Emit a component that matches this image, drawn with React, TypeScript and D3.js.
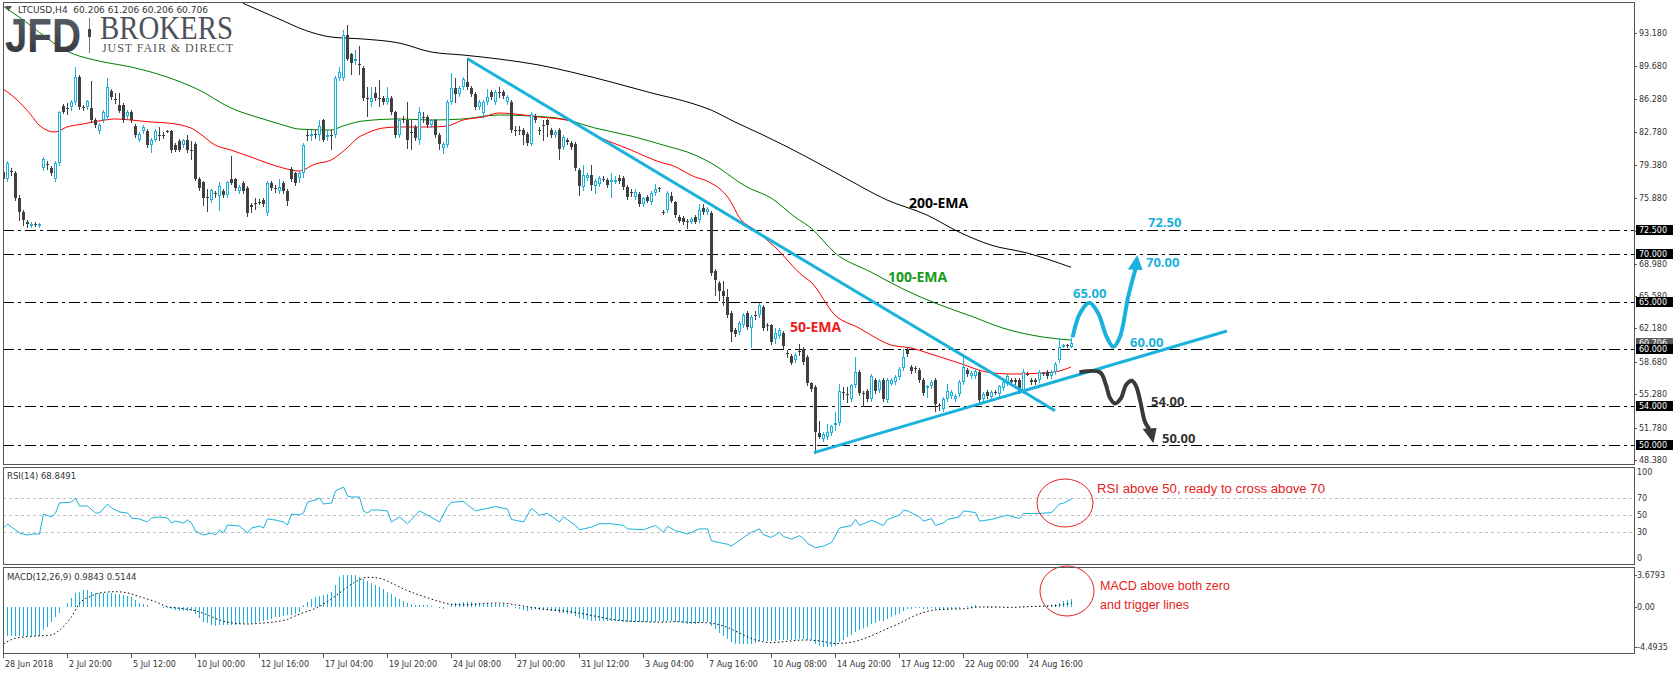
import React from "react";
import * as d3 from "d3";

// LTCUSD H4 candles: [open, high, low, close]
const ohlc: [number, number, number, number][] = [
  [78.6, 79.0, 77.6, 77.9], [77.9, 79.8, 77.7, 79.5], [78.7, 79.0, 78.3, 78.6], [78.5, 78.7, 75.7, 75.9],
  [75.9, 76.2, 73.6, 74.4], [74.4, 74.6, 73.0, 73.6], [73.3, 73.6, 72.8, 73.1], [73.0, 73.3, 72.8, 73.1],
  [73.1, 73.3, 72.9, 73.0], [73.0, 73.2, 72.8, 73.1], [79.0, 80.2, 78.8, 80.0], [79.4, 79.7, 78.9, 79.3],
  [79.0, 79.2, 78.3, 78.5], [77.9, 79.8, 77.7, 79.5], [79.5, 85.0, 79.3, 84.9], [85.5, 85.7, 84.8, 84.9],
  [85.3, 85.8, 84.7, 85.3], [85.4, 86.1, 85.1, 85.9], [85.9, 89.6, 85.7, 88.6], [88.6, 88.8, 85.2, 85.4],
  [85.4, 85.6, 85.1, 85.3], [85.4, 86.2, 85.2, 86.0], [85.3, 88.1, 83.8, 84.0], [84.0, 84.3, 83.3, 83.5],
  [82.9, 83.7, 82.7, 83.5], [84.0, 85.1, 83.8, 84.9], [84.4, 88.5, 84.2, 87.5], [87.1, 87.3, 86.3, 86.5],
  [86.3, 86.9, 85.8, 86.2], [85.6, 86.9, 84.9, 85.0], [85.6, 85.8, 83.8, 84.0], [84.5, 85.1, 84.3, 84.9],
  [84.9, 85.1, 83.8, 84.0], [83.4, 83.6, 82.3, 82.5], [82.0, 82.8, 81.8, 82.6], [82.9, 83.5, 82.7, 83.3],
  [82.9, 83.1, 81.2, 81.4], [81.4, 82.2, 80.7, 82.0], [82.0, 83.1, 81.8, 82.9], [82.5, 83.3, 82.0, 82.5],
  [82.5, 82.8, 82.2, 82.4], [82.9, 83.0, 82.8, 82.9], [82.9, 83.0, 80.7, 80.9], [81.4, 81.6, 80.8, 80.9],
  [81.9, 82.1, 80.8, 80.9], [81.4, 82.1, 81.2, 82.0], [82.0, 82.5, 80.7, 80.9], [80.9, 81.9, 80.0, 80.8],
  [81.5, 81.7, 77.8, 77.9], [77.9, 78.1, 76.7, 76.9], [77.5, 77.6, 75.1, 75.9], [76.0, 76.8, 74.5, 75.9],
  [75.7, 76.8, 75.5, 76.7], [76.4, 76.6, 76.0, 76.3], [76.1, 77.5, 74.6, 77.1], [76.6, 76.8, 76.0, 76.2],
  [76.2, 77.7, 76.0, 77.5], [77.9, 80.3, 77.3, 77.4], [77.9, 78.0, 76.7, 76.9], [76.6, 77.2, 76.4, 77.0],
  [77.4, 77.6, 76.4, 76.6], [76.9, 77.1, 74.0, 74.3], [75.1, 75.3, 74.4, 74.9], [75.3, 75.9, 74.7, 75.3],
  [75.5, 75.8, 75.2, 75.4], [75.7, 75.9, 75.0, 75.2], [74.3, 77.7, 74.1, 77.4], [77.4, 77.6, 76.7, 76.9],
  [76.9, 77.2, 76.5, 76.8], [76.6, 77.9, 76.4, 77.0], [77.4, 77.6, 76.4, 76.6], [76.6, 76.8, 75.1, 75.6],
  [78.9, 79.1, 77.7, 77.9], [78.5, 78.6, 77.2, 77.4], [78.0, 78.7, 77.5, 78.5], [78.5, 81.6, 78.1, 81.4],
  [82.5, 83.0, 82.0, 82.5], [82.5, 83.0, 82.0, 82.6], [82.6, 83.0, 82.2, 82.5], [82.5, 84.0, 82.0, 83.4],
  [84.0, 84.2, 81.8, 82.0], [82.4, 83.0, 82.0, 82.5], [82.5, 83.0, 81.0, 82.5], [82.5, 88.7, 82.3, 88.5],
  [88.5, 89.6, 88.3, 89.1], [88.5, 93.5, 88.3, 93.0], [93.0, 94.0, 90.3, 90.5], [91.0, 91.1, 88.9, 90.0],
  [90.4, 91.4, 89.9, 90.5], [89.9, 91.8, 88.9, 89.9], [89.5, 89.7, 86.2, 86.4], [86.4, 87.5, 84.5, 86.4],
  [85.9, 87.5, 85.5, 86.4], [86.9, 87.5, 86.2, 86.4], [86.4, 88.3, 85.5, 86.4], [86.4, 86.6, 85.7, 85.9],
  [85.9, 87.5, 85.7, 86.4], [86.4, 86.6, 84.7, 84.9], [84.9, 85.0, 82.3, 82.5], [82.5, 84.2, 82.3, 84.0],
  [84.2, 84.5, 83.8, 84.2], [84.0, 85.9, 81.1, 82.0], [82.8, 84.0, 81.0, 82.8], [83.3, 83.5, 82.0, 82.2],
  [82.0, 85.4, 81.5, 84.9], [84.4, 84.9, 83.8, 84.4], [84.4, 84.6, 83.3, 83.5], [83.5, 84.2, 83.3, 84.0],
  [84.0, 84.2, 82.3, 82.5], [82.5, 82.7, 81.0, 81.5], [81.1, 81.7, 80.6, 81.5], [81.4, 86.1, 81.2, 85.9],
  [85.9, 89.0, 85.7, 87.4], [87.4, 88.5, 85.9, 86.8], [86.8, 87.6, 86.6, 87.4], [87.5, 88.6, 87.3, 88.4],
  [88.0, 90.5, 87.3, 87.5], [87.4, 87.6, 86.6, 86.8], [86.8, 87.0, 85.2, 85.4], [85.4, 86.1, 85.2, 85.9],
  [84.8, 86.2, 84.4, 85.9], [85.9, 87.3, 85.7, 86.5], [87.0, 87.2, 86.3, 86.5], [85.9, 87.2, 85.7, 87.0],
  [87.0, 87.5, 86.5, 87.0], [87.0, 87.2, 86.4, 86.6], [85.9, 86.7, 85.7, 86.5], [85.9, 86.1, 82.8, 83.0],
  [83.0, 83.4, 82.5, 83.0], [83.0, 83.4, 82.6, 83.0], [83.0, 83.2, 81.5, 82.5], [82.6, 82.8, 81.4, 81.6],
  [81.5, 84.9, 81.4, 84.7], [84.5, 84.7, 83.8, 84.0], [83.0, 83.3, 82.6, 82.9], [83.5, 84.0, 82.0, 83.5],
  [84.0, 84.2, 82.4, 83.5], [83.0, 83.2, 82.3, 82.5], [82.5, 83.0, 82.3, 82.8], [83.0, 83.2, 80.0, 81.0],
  [81.2, 82.5, 81.0, 82.3], [82.0, 82.2, 81.5, 81.7], [81.6, 81.8, 81.0, 81.2], [81.5, 81.7, 78.8, 79.0],
  [78.8, 79.0, 76.2, 77.1], [77.0, 79.3, 76.7, 78.3], [78.0, 78.5, 77.8, 78.3], [78.3, 79.3, 76.7, 77.2],
  [77.1, 77.9, 76.4, 77.6], [77.3, 78.2, 77.1, 78.0], [77.9, 78.2, 77.6, 77.9], [77.8, 78.0, 77.0, 77.2],
  [77.6, 78.5, 76.0, 77.8], [77.6, 78.2, 77.4, 77.8], [78.0, 78.3, 77.4, 77.6], [78.0, 78.2, 76.8, 77.0],
  [77.0, 77.2, 75.8, 76.0], [76.5, 76.8, 76.1, 76.4], [76.0, 76.8, 75.8, 76.5], [76.3, 76.5, 75.0, 75.2],
  [75.2, 76.0, 75.0, 75.9], [76.0, 76.2, 75.4, 75.6], [75.4, 76.6, 75.2, 76.4], [76.4, 77.3, 76.2, 76.8],
  [76.9, 77.0, 76.6, 76.8], [74.4, 74.6, 74.2, 74.4], [74.6, 76.6, 74.4, 76.4], [76.1, 76.5, 75.4, 75.6],
  [75.4, 75.6, 73.9, 74.1], [73.9, 74.1, 73.3, 73.5], [73.8, 74.0, 73.1, 73.3], [73.5, 73.7, 72.7, 73.3],
  [73.4, 73.9, 73.2, 73.7], [73.9, 74.1, 73.2, 73.4], [73.6, 75.2, 73.4, 74.6], [74.8, 75.2, 74.2, 74.4],
  [74.4, 74.9, 74.2, 74.7], [74.3, 74.5, 67.8, 68.0], [68.2, 68.4, 65.7, 67.3], [67.0, 67.2, 65.2, 66.1],
  [66.1, 67.2, 64.6, 65.6], [65.5, 66.3, 63.4, 63.6], [63.8, 64.0, 60.9, 61.8], [62.0, 62.2, 61.4, 61.6],
  [61.8, 63.0, 61.6, 62.8], [62.5, 63.8, 62.3, 63.6], [63.8, 64.0, 62.1, 62.3], [62.2, 63.6, 60.2, 63.4],
  [63.6, 64.0, 63.2, 63.6], [63.6, 64.8, 63.4, 64.6], [64.4, 64.6, 62.0, 62.2], [62.5, 62.8, 62.0, 62.4],
  [62.5, 62.7, 60.6, 60.8], [61.1, 62.2, 60.7, 61.7], [61.4, 62.2, 61.2, 62.0], [61.7, 61.9, 60.1, 60.3],
  [59.6, 59.9, 59.2, 59.5], [59.3, 59.5, 58.5, 58.6], [58.9, 59.6, 58.7, 59.4], [59.8, 60.5, 59.4, 59.8],
  [60.0, 60.2, 58.5, 58.7], [59.2, 59.4, 56.3, 56.5], [56.5, 56.6, 55.6, 55.8], [56.0, 56.2, 49.15, 51.3],
  [51.2, 52.5, 50.7, 50.8], [50.6, 51.3, 50.4, 51.1], [50.8, 52.2, 50.6, 51.3], [51.2, 52.1, 51.0, 51.9],
  [52.0, 53.4, 51.5, 52.3], [52.3, 56.4, 52.1, 55.6], [55.5, 56.0, 54.8, 55.4], [55.3, 56.0, 54.5, 55.2],
  [54.8, 56.4, 54.6, 56.2], [56.2, 59.2, 56.0, 57.6], [57.6, 57.8, 55.2, 55.4], [55.4, 55.6, 54.0, 55.3],
  [55.6, 55.8, 54.6, 54.8], [54.8, 57.4, 54.6, 57.2], [56.8, 57.0, 55.4, 55.6], [55.7, 56.9, 55.5, 56.7],
  [56.8, 57.0, 54.6, 54.8], [54.7, 57.0, 54.5, 56.8], [56.4, 57.0, 56.2, 56.8], [56.6, 57.3, 56.4, 57.1],
  [57.1, 58.1, 56.9, 57.9], [58.0, 60.0, 57.8, 59.2], [60.0, 60.2, 59.3, 59.5], [58.1, 58.3, 57.5, 57.7],
  [58.0, 58.2, 57.6, 57.9], [57.8, 58.0, 56.6, 56.8], [56.8, 57.0, 55.2, 55.4], [55.9, 56.3, 55.0, 56.1],
  [56.1, 56.8, 55.9, 56.6], [56.8, 57.0, 53.5, 54.3], [54.1, 54.4, 53.6, 54.0], [53.7, 55.0, 53.5, 54.8],
  [54.8, 56.4, 54.6, 55.6], [55.1, 55.7, 54.9, 55.5], [54.8, 55.3, 54.6, 55.1], [55.3, 56.8, 55.1, 56.6],
  [56.6, 59.2, 56.4, 58.1], [57.8, 58.0, 57.2, 57.4], [57.2, 57.7, 57.0, 57.5], [57.2, 57.9, 57.0, 57.7],
  [57.6, 57.8, 54.5, 54.7], [54.8, 55.5, 54.6, 55.3], [55.5, 55.7, 54.9, 55.1], [55.0, 55.7, 54.8, 55.5],
  [55.5, 55.7, 55.3, 55.5], [55.3, 56.3, 55.1, 56.1], [55.9, 56.8, 55.7, 56.6], [56.4, 57.4, 56.2, 57.2],
  [56.8, 57.0, 56.4, 56.6], [56.8, 57.0, 56.4, 56.6], [56.8, 57.0, 55.4, 55.6], [55.6, 57.9, 55.4, 57.6],
  [57.4, 57.6, 57.3, 57.4], [56.8, 57.0, 56.4, 56.6], [56.8, 57.0, 56.4, 56.6], [56.8, 57.8, 56.6, 57.6],
  [57.5, 57.6, 57.3, 57.4], [57.6, 57.8, 57.0, 57.2], [57.2, 57.8, 57.0, 57.6], [57.6, 58.7, 57.4, 58.5],
  [58.9, 61.2, 58.7, 60.2], [60.3, 60.6, 60.2, 60.4], [60.4, 60.6, 60.2, 60.4], [60.206, 61.206, 60.206, 60.706],
];

const timeLabels = [
  "28 Jun 2018", "2 Jul 20:00", "5 Jul 12:00", "10 Jul 00:00", "12 Jul 16:00", "17 Jul 04:00",
  "19 Jul 20:00", "24 Jul 08:00", "27 Jul 00:00", "31 Jul 12:00", "3 Aug 04:00", "7 Aug 16:00",
  "10 Aug 08:00", "14 Aug 20:00", "17 Aug 12:00", "22 Aug 00:00", "24 Aug 16:00",
];

const priceTicks = [93.18, 89.68, 86.28, 82.78, 79.38, 75.88, 72.38, 68.98, 65.58, 62.18, 58.68, 55.28, 51.78, 48.38];
const levels = [72.5, 70, 65, 60, 54, 50];
const lastPrice = 60.706;

// moving averages sampled off the chart: [bar, value]
const ema200: [number, number][] = [
  [60, 96.3], [69, 94.65], [76, 93.4], [82, 92.76], [90, 92.55], [99, 92.13], [107, 91.19], [115, 90.87],
  [124, 90.45], [134, 89.82], [142, 89.09], [152, 88.04], [162, 86.9], [172, 85.83], [177, 85.1], [183, 83.84],
  [190, 82.48], [200, 80.38], [210, 78.1], [221, 75.66], [231, 74.08], [239, 72.3], [247, 70.93], [256, 70.1], [267, 68.6],
];
const ema100: [number, number][] = [
  [0, 96.0], [4, 94.86], [17, 91.08], [24, 90.24], [32, 89.61], [41, 88.56], [49, 87.2], [57, 85.31],
  [65, 84.16], [70, 83.53], [74, 83.1], [82, 83.0], [85, 83.42], [90, 83.95], [99, 84.16], [107, 84.05],
  [115, 84.16], [124, 84.58], [132, 84.47], [140, 84.16], [148, 83.21], [157, 82.37], [165, 81.43], [173, 80.38],
  [177, 79.54], [186, 77.02], [192, 75.87], [198, 73.87], [202, 72.72], [208, 70.1], [217, 68.1], [225, 66.32],
  [233, 64.85], [242, 63.48], [250, 62.22], [260, 61.28], [267, 60.96],
];
const ema50: [number, number][] = [
  [0, 87.3], [3, 86.36], [7, 84.58], [9, 83.53], [13, 82.79], [16, 83.32], [20, 83.63], [24, 83.95],
  [28, 84.16], [32, 84.05], [37, 83.84], [41, 83.74], [47, 83.21], [49, 82.69], [53, 81.43], [57, 80.9],
  [62, 80.17], [66, 79.54], [70, 79.02], [74, 78.7], [78, 79.43], [82, 79.85], [86, 81.11], [89, 82.27],
  [90, 82.48], [95, 83.21], [99, 83.32], [107, 83.32], [111, 83.42], [115, 84.05], [120, 84.37], [124, 84.79],
  [128, 84.68], [134, 84.37], [142, 83.95], [148, 82.48], [157, 80.9], [165, 79.54], [167, 79.33], [173, 78.07],
  [176, 77.65], [182, 75.45], [184, 73.87], [188, 72.51], [193, 70.72], [200, 67.68], [202, 67.05], [208, 63.59],
  [214, 62.23], [217, 61.49], [222, 60.44], [227, 60.13], [232, 59.5], [239, 58.55], [246, 57.61], [252, 57.4],
  [260, 57.5], [264, 57.71], [267, 58.13],
];

const trendDown: [number, number][] = [[116, 90.5], [263, 53.55]];
const trendUp: [number, number][] = [[202.75, 49.16], [306, 61.91]];

// scenario paths [bar, price]
const bullPath: [number, number][] = [
  [267.4, 61.25], [269.25, 63.77], [271.6, 64.88], [273.8, 63.77], [275.9, 61.31], [277.6, 60.26],
  [279.25, 61.31], [281.3, 65.51], [283.1, 68.4],
];
const bullHead: [number, number][] = [[283.6, 69.88], [281.2, 68.38], [284.9, 68.31]];
const bearPath: [number, number][] = [
  [269.1, 57.58], [274.25, 57.58], [275.75, 56.24], [276.75, 54.88], [278.0, 54.32], [279.5, 54.88],
  [280.75, 56.24], [282.2, 56.69], [283.25, 56.14], [284.25, 54.67], [285.5, 52.36], [286.6, 51.6],
];
const bearHead: [number, number][] = [[287.6, 50.13], [284.9, 51.65], [288.4, 51.75]];

// RSI(14) sampled: [bar, value]
const rsi: [number, number][] = [
  [0, 35.0], [1, 39.7], [2, 36.2], [4, 29.2], [6, 26.8], [7, 28.0], [9, 28.0], [10, 51.3], [12, 47.8], [13, 52.5],
  [14, 64.2], [17, 65.3], [18, 70.0], [19, 60.7], [21, 60.7], [23, 52.5], [24, 52.5], [26, 63.0], [27, 58.3],
  [29, 53.7], [31, 52.5], [32, 46.7], [34, 45.5], [36, 42.0], [37, 46.7], [39, 47.8], [41, 46.7], [42, 40.8],
  [43, 43.2], [45, 40.8], [46, 44.3], [47, 40.8], [48, 31.5], [50, 26.8], [52, 29.2], [53, 26.8], [54, 32.7],
  [55, 29.2], [56, 38.5], [59, 37.3], [61, 29.2], [62, 35.0], [64, 37.3], [65, 35.0], [66, 45.5], [68, 44.3],
  [70, 42.0], [71, 38.5], [72, 51.3], [74, 50.2], [75, 52.5], [76, 65.3], [78, 67.7], [79, 70.0], [80, 63.0],
  [82, 64.2], [83, 78.2], [85, 82.8], [86, 72.3], [87, 71.2], [89, 71.2], [90, 54.8], [91, 52.5], [92, 56.0],
  [94, 56.0], [96, 54.8], [97, 42.0], [99, 47.8], [101, 40], [104, 55], [106, 50], [109, 42], [111, 60],
  [112, 65], [115, 66], [116, 62], [118, 55], [121, 58], [123, 60], [126, 57], [127, 45], [130, 42], [132, 58],
  [134, 50], [136, 52], [139, 42], [140, 48], [143, 38], [144, 33], [147, 36], [149, 40], [152, 40], [155, 38],
  [156, 34], [160, 33], [163, 38], [165, 30], [166, 37], [168, 32], [171, 28], [174, 34], [176, 34], [177, 20],
  [179, 18], [181, 16], [182, 14], [185, 24], [187, 30], [189, 34], [190, 27], [192, 24], [194, 30], [195, 25],
  [197, 22], [199, 26], [200, 23], [201, 17], [203, 12], [205, 14], [207, 18], [209, 35], [212, 38], [213, 45],
  [214, 38], [217, 44], [220, 38], [221, 45], [224, 50], [225, 56], [226, 55], [229, 48], [230, 43], [232, 46],
  [233, 38], [235, 41], [236, 45], [239, 48], [240, 55], [243, 53], [244, 43], [247, 45], [251, 50], [254, 46],
  [255, 52], [259, 52], [262, 53], [264, 63], [265, 64], [267, 68.85],
];
const rsiLevels = [70, 50, 30];

// MACD(12,26,9) main, one value per bar
const macd = [
  -3.1, -3.2, -3.3, -3.3, -3.3, -3.3, -3.3, -3.3, -3.3, -3.3, -2.6, -2.2, -1.6, -1.05, -0.67, 0.0,
  0.46, 1.03, 1.6, 1.78, 1.97, 1.97, 1.78, 1.6, 1.65, 1.6, 1.6, 1.6, 1.55, 1.55, 1.4, 1.3,
  1.14, 0.84, 0.53, 0.38, 0.23, 0.08, 0.05, 0.0, -0.05, -0.1, -0.22, -0.3, -0.37, -0.4, -0.4, -0.45,
  -0.75, -1.24, -1.62, -1.81, -2.0, -2.11, -2.05, -2.0, -2.0, -2.0, -1.95, -1.88, -1.81, -1.81, -1.81, -1.75,
  -1.62, -1.5, -1.43, -1.3, -1.13, -1.05, -0.98, -0.9, -0.86, -0.75, -0.49, 0.3, 0.65, 0.92, 1.22, 1.29,
  1.4, 1.52, 1.78, 2.54, 3.42, 3.68, 3.68, 3.68, 3.68, 3.5, 3.2, 3.0, 2.8, 2.54, 2.3, 2.1,
  1.78, 1.52, 1.22, 0.92, 0.7, 0.5, 0.35, 0.25, 0.3, 0.3, 0.25, 0.2, 0.1, -0.05, -0.15, 0.1,
  0.35, 0.45, 0.55, 0.65, 0.65, 0.6, 0.5, 0.45, 0.4, 0.4, 0.4, 0.42, 0.4, 0.35, 0.3, 0.1,
  -0.05, -0.15, -0.3, -0.45, -0.3, -0.2, -0.25, -0.3, -0.3, -0.4, -0.45, -0.6, -0.65, -0.7, -0.75, -0.95,
  -1.25, -1.35, -1.4, -1.5, -1.55, -1.55, -1.55, -1.55, -1.55, -1.55, -1.55, -1.6, -1.65, -1.65, -1.65, -1.7,
  -1.7, -1.7, -1.65, -1.6, -1.55, -1.6, -1.55, -1.55, -1.6, -1.7, -1.8, -1.85, -1.85, -1.85, -1.75, -1.7,
  -1.65, -2.1, -2.5, -2.85, -3.2, -3.55, -3.9, -4.1, -4.2, -4.2, -4.15, -4.1, -4.0, -3.85, -3.85, -3.8,
  -3.85, -3.8, -3.7, -3.7, -3.7, -3.75, -3.7, -3.6, -3.55, -3.65, -3.75, -4.15, -4.4, -4.49, -4.49, -4.45,
  -4.35, -3.95, -3.65, -3.4, -3.1, -2.75, -2.55, -2.35, -2.2, -1.9, -1.75, -1.55, -1.5, -1.3, -1.1, -0.9,
  -0.7, -0.4, -0.2, -0.15, -0.1, -0.1, -0.15, -0.15, -0.1, -0.2, -0.3, -0.3, -0.25, -0.2, -0.2, -0.1,
  0.1, 0.15, 0.2, 0.25, 0.05, 0.0, -0.05, -0.05, -0.05, 0.0, 0.05, 0.1, 0.1, 0.1, 0.05, 0.15,
  0.15, 0.15, 0.15, 0.2, 0.2, 0.2, 0.25, 0.35, 0.55, 0.7, 0.85, 0.98,
];
// signal line sampled: [bar, value]
const signal: [number, number][] = [
  [0, -4.15], [3, -3.5], [8, -3.25], [12, -3.13], [14, -2.57], [17, -1.05], [19, 0.46], [22, 1.29], [24, 1.65],
  [28, 1.78], [31, 1.65], [34, 1.22], [38, 0.65], [41, 0.08], [44, -0.1], [48, -0.37], [51, -0.86], [54, -1.43],
  [58, -1.81], [61, -1.88], [64, -1.81], [68, -1.62], [71, -1.36], [74, -0.75], [78, -0.1], [81, 0.65], [84, 1.65],
  [88, 2.9], [91, 3.42], [94, 3.3], [98, 2.54], [101, 1.9], [104, 1.4], [108, 0.8], [112, 0.35], [116, 0.3],
  [120, 0.45], [124, 0.5], [128, 0.3], [132, 0.0], [136, -0.25], [140, -0.4], [144, -0.65], [148, -1.0],
  [152, -1.35], [156, -1.55], [160, -1.62], [164, -1.67], [168, -1.62], [172, -1.7], [176, -1.75], [180, -2.1],
  [184, -2.9], [188, -3.7], [192, -4.0], [196, -3.85], [200, -3.7], [204, -3.8], [208, -4.1], [212, -3.95],
  [216, -3.4], [220, -2.6], [224, -1.8], [228, -0.9], [232, -0.35], [236, -0.2], [240, -0.15], [244, 0.05],
  [248, 0.05], [252, 0.0], [256, 0.08], [260, 0.15], [264, 0.25], [267, 0.5144],
];

const CYAN = "#1ab2dc";
const BEAR = "#404040";
const AXIS_FONT = "DejaVu Sans, sans-serif";
const BOLD_FONT = "Open Sans, Liberation Sans, sans-serif";

export default function App() {
  const L = 3, R = 1634;
  const main = { top: 2, bottom: 465 };
  const rsiP = { top: 467, bottom: 565 };
  const macdP = { top: 567, bottom: 654 };

  const x = d3.scaleLinear().domain([0, 100]).range([3, 403]);
  const y = d3.scaleLinear().domain([48.38, 93.18]).range([460, 33]);
  const yRsi = d3.scaleLinear().domain([0, 100]).range([558, 472.3]);
  const yMacd = d3.scaleLinear().domain([-4.4935, 3.6793]).range([647, 575]);

  const pxLine = d3.line<[number, number]>().x(d => x(d[0])).y(d => y(d[1]));
  const smooth = d3.line<[number, number]>().x(d => x(d[0])).y(d => y(d[1])).curve(d3.curveMonotoneX);
  const arrowCurve = d3.line<[number, number]>().x(d => x(d[0])).y(d => y(d[1])).curve(d3.curveCatmullRom.alpha(0.5));
  const rsiLine = d3.line<[number, number]>().x(d => x(d[0]) + 0.5).y(d => yRsi(d[1]));
  const sigLine = d3.line<[number, number]>().x(d => x(d[0]) + 0.5).y(d => yMacd(d[1])).curve(d3.curveMonotoneX);
  const poly = (pts: [number, number][]) => pts.map(p => `${x(p[0])},${y(p[1])}`).join(" ");

  const r = (v: number) => Math.round(v);

  return (
    <svg width={1674} height={675} style={{ position: "absolute", left: 0, top: 0, background: "#fff" }}>
      <defs>
        <clipPath id="cm"><rect x={L} y={main.top} width={R - L} height={main.bottom - main.top} /></clipPath>
        <clipPath id="cr"><rect x={L} y={rsiP.top} width={R - L} height={rsiP.bottom - rsiP.top} /></clipPath>
        <clipPath id="cd"><rect x={L} y={macdP.top} width={R - L} height={macdP.bottom - macdP.top} /></clipPath>
        <linearGradient id="jfd" x1="0" y1="0" x2="0" y2="1">
          <stop offset="0" stopColor="#60656c" />
          <stop offset="1" stopColor="#2c3138" />
        </linearGradient>
      </defs>
      <rect width={1674} height={675} fill="#fff" />

      {/* main panel */}
      <g clipPath="url(#cm)">
        {levels.map(v => (
          <line key={v} x1={L} x2={R} y1={r(y(v)) + 0.5} y2={r(y(v)) + 0.5} stroke="#000" strokeDasharray="11,4,3,4" />
        ))}
        <path d={smooth(ema200) ?? ""} fill="none" stroke="#000" strokeWidth={1} />
        <path d={smooth(ema100) ?? ""} fill="none" stroke="#008000" strokeWidth={1} />
        <path d={smooth(ema50) ?? ""} fill="none" stroke="#ff0000" strokeWidth={1} />

        <g shapeRendering="crispEdges">
          {ohlc.map(([o, h, l, c], i) => {
            const cx = r(x(i));
            const top = r(y(Math.max(o, c)));
            const bot = Math.max(r(y(Math.min(o, c))), top + 1);
            const bull = c > o;
            const col = bull ? CYAN : BEAR;
            return (
              <g key={i}>
                <line x1={cx + 0.5} x2={cx + 0.5} y1={r(y(h))} y2={r(y(l)) + 1} stroke={col} />
                {bull ? (
                  <rect x={cx - 0.5} y={top + 0.5} width={2} height={Math.max(bot - top - 1, 1)} fill="#fff" stroke={col} />
                ) : (
                  <rect x={cx - 1} y={top} width={3} height={Math.max(bot - top, 1)} fill={col} />
                )}
              </g>
            );
          })}
        </g>

        <path d={pxLine(trendDown) ?? ""} stroke={CYAN} strokeWidth={3} fill="none" />
        <path d={pxLine(trendUp) ?? ""} stroke={CYAN} strokeWidth={3} fill="none" />

        <path d={arrowCurve(bullPath) ?? ""} stroke={CYAN} strokeWidth={4} fill="none" />
        <polygon points={poly(bullHead)} fill={CYAN} />
        <path d={arrowCurve(bearPath) ?? ""} stroke="#3a3a3a" strokeWidth={4} fill="none" />
        <polygon points={poly(bearHead)} fill="#3a3a3a" />

        <g fontFamily={BOLD_FONT} fontWeight={700}>
          <text x={909} y={208} fontSize={14} fill="#000">200-EMA</text>
          <text x={888} y={282} fontSize={14} fill="#1a9a1a">100-EMA</text>
          <text x={790} y={332} fontSize={14} fill="#ee1c1c">50-EMA</text>
          <text x={x(286.25)} y={y(72.82)} fontSize={13} fill={CYAN}>72.50</text>
          <text x={x(285.75)} y={y(68.63)} fontSize={13} fill={CYAN}>70.00</text>
          <text x={x(267.5)} y={y(65.37)} fontSize={13} fill={CYAN}>65.00</text>
          <text x={x(281.75)} y={y(60.23)} fontSize={13} fill={CYAN}>60.00</text>
          <text x={x(287)} y={y(54.04)} fontSize={13} fill="#333">54.00</text>
          <text x={x(289.75)} y={y(50.16)} fontSize={13} fill="#333">50.00</text>
        </g>
      </g>

      {/* logo and header */}
      <g>
        <text x={5} y={52} fontFamily="Liberation Sans, Arial, sans-serif" fontWeight={700} fontSize={48}
          textLength={76} lengthAdjust="spacingAndGlyphs" fill="url(#jfd)">JFD</text>
        <line x1={89.5} x2={89.5} y1={18} y2={53} stroke="#777" strokeWidth={1} />
        <rect x={88} y={29} width={3} height={8} fill="#444" />
        <text x={100} y={39} fontFamily="Liberation Serif, serif" fontSize={33} textLength={133}
          lengthAdjust="spacingAndGlyphs" fill="#4d5258">BROKERS</text>
        <text x={102} y={52} fontFamily="Liberation Serif, serif" fontSize={12} textLength={131}
          lengthAdjust="spacing" fill="#555">JUST FAIR &amp; DIRECT</text>
        <polygon points="5,6 12,6 8.5,11" fill="#555" />
        <text x={18} y={13} fontFamily={AXIS_FONT} fontSize={9} fill="#333" xmlSpace="preserve">
          LTCUSD,H4  60.206 61.206 60.206 60.706
        </text>
      </g>

      {/* RSI panel */}
      <g clipPath="url(#cr)">
        {rsiLevels.map(v => (
          <line key={v} x1={L} x2={R} y1={r(yRsi(v)) + 0.5} y2={r(yRsi(v)) + 0.5} stroke="#c0c0c0" strokeDasharray="3,3" />
        ))}
        <path d={rsiLine(rsi) ?? ""} fill="none" stroke={CYAN} strokeWidth={1} />
      </g>
      <text x={7} y={479} fontFamily={AXIS_FONT} fontSize={8.5} fill="#333">RSI(14) 68.8491</text>

      {/* MACD panel */}
      <g clipPath="url(#cd)" shapeRendering="crispEdges">
        {macd.map((v, i) => (
          <line key={i} x1={r(x(i)) + 0.5} x2={r(x(i)) + 0.5} y1={r(yMacd(0))} y2={r(yMacd(v))} stroke={CYAN} />
        ))}
      </g>
      <path d={sigLine(signal) ?? ""} fill="none" stroke="#000" strokeWidth={1} strokeDasharray="1.5,2.5" clipPath="url(#cd)" />
      <text x={7} y={580} fontFamily={AXIS_FONT} fontSize={8.5} fill="#333">MACD(12,26,9) 0.9843 0.5144</text>

      {/* annotations in the indicator panels */}
      <ellipse cx={1065} cy={503} rx={28} ry={24} fill="none" stroke="#e52222" />
      <text x={1097} y={493} fontFamily="Liberation Sans, sans-serif" fontSize={12.5} fill="#e52222"
        textLength={228} lengthAdjust="spacingAndGlyphs">RSI above 50, ready to cross above 70</text>
      <ellipse cx={1067} cy={591} rx={27} ry={25} fill="none" stroke="#e52222" />
      <text x={1100} y={590} fontFamily="Liberation Sans, sans-serif" fontSize={12.5} fill="#e52222">MACD above both zero</text>
      <text x={1100} y={609} fontFamily="Liberation Sans, sans-serif" fontSize={12.5} fill="#e52222">and trigger lines</text>

      {/* panel frames */}
      <g fill="none" stroke="#555" shapeRendering="crispEdges">
        <rect x={L + 0.5} y={main.top + 0.5} width={R - L} height={main.bottom - main.top - 1} />
        <rect x={L + 0.5} y={rsiP.top + 0.5} width={R - L} height={rsiP.bottom - rsiP.top - 1} />
        <rect x={L + 0.5} y={macdP.top + 0.5} width={R - L} height={macdP.bottom - macdP.top - 1} />
      </g>

      {/* right price axis */}
      <g fontFamily={AXIS_FONT} fontSize={8} fill="#333">
        {priceTicks.map(v => (
          <g key={v}>
            <line x1={R} x2={R + 3} y1={r(y(v)) + 0.5} y2={r(y(v)) + 0.5} stroke="#555" />
            <text x={R + 5} y={r(y(v)) + 3}>{v.toFixed(3)}</text>
          </g>
        ))}
        <rect x={R + 2} y={r(y(lastPrice)) - 5} width={37} height={10} fill="#5a5a5a" />
        <text x={R + 5} y={r(y(lastPrice)) + 3} fill="#fff">{lastPrice.toFixed(3)}</text>
        {levels.map(v => (
          <g key={v}>
            <rect x={R + 2} y={r(y(v)) - 5} width={37} height={10} fill="#000" />
            <text x={R + 5} y={r(y(v)) + 3} fill="#fff">{v.toFixed(3)}</text>
          </g>
        ))}
        {[100, ...rsiLevels, 0].map(v => (
          <text key={v} x={R + 3} y={r(yRsi(v)) + 3}>{v}</text>
        ))}
        {[3.6793, 0, -4.4935].map(v => (
          <g key={v}>
            <line x1={R} x2={R + 3} y1={r(yMacd(v)) + 0.5} y2={r(yMacd(v)) + 0.5} stroke="#555" />
            <text x={R + 3} y={r(yMacd(v)) + 3}>{v === 0 ? "0.00" : v.toFixed(4)}</text>
          </g>
        ))}
      </g>

      {/* time axis */}
      <g fontFamily={AXIS_FONT} fontSize={8} fill="#333">
        {timeLabels.map((t, k) => {
          const tx = r(x(k * 16));
          return (
            <g key={t}>
              <line x1={tx + 0.5} x2={tx + 0.5} y1={macdP.bottom} y2={macdP.bottom + 4} stroke="#555" />
              <text x={tx + 2} y={667}>{t}</text>
            </g>
          );
        })}
      </g>
    </svg>
  );
}
